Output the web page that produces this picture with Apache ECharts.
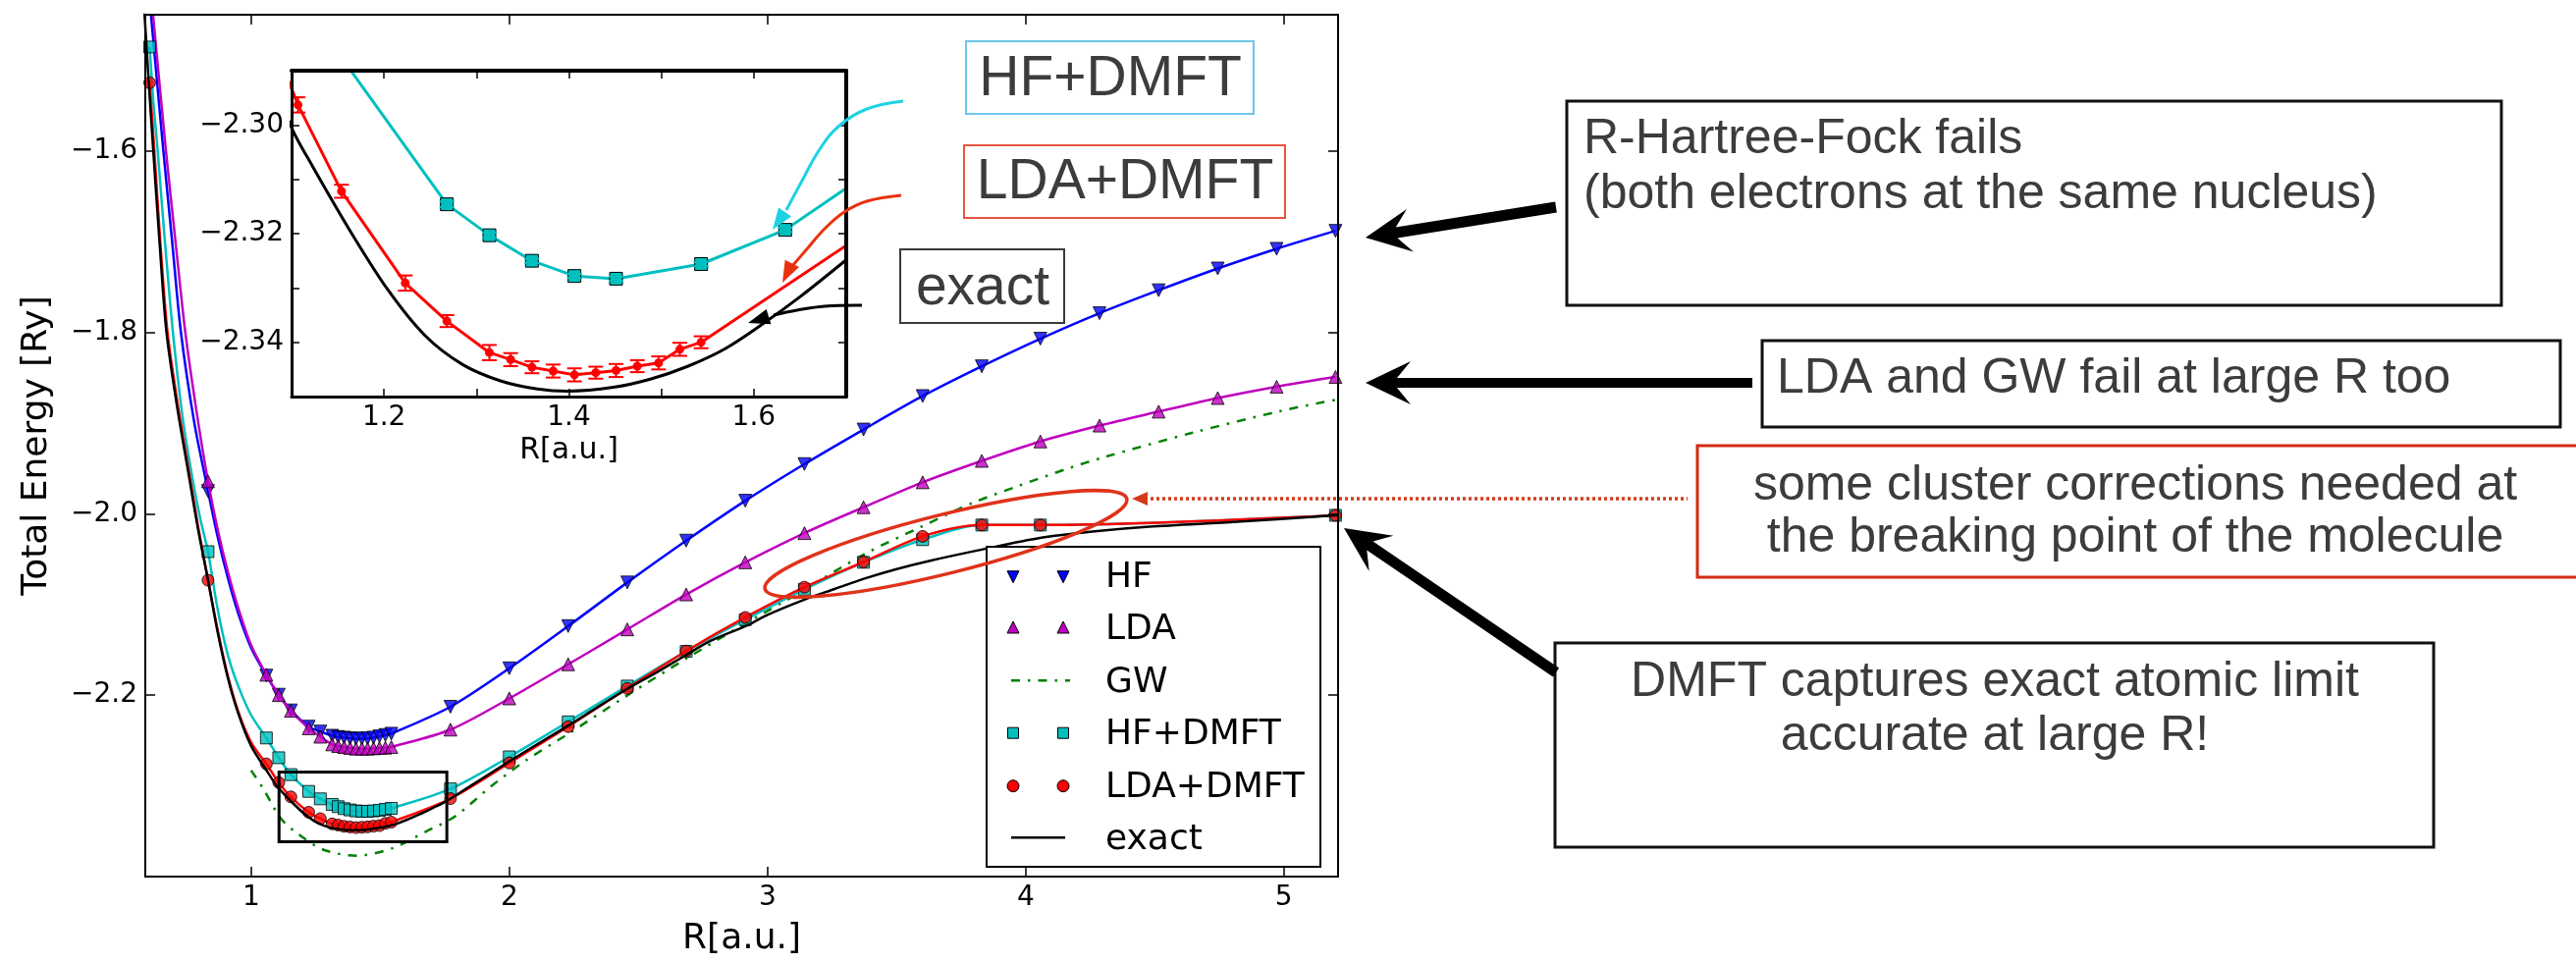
<!DOCTYPE html>
<html><head><meta charset="utf-8">
<script src="https://cdn.jsdelivr.net/npm/echarts@6/dist/echarts.min.js"></script>
<style>html,body{margin:0;padding:0;background:#fff;}#c{width:2624px;height:980px;}</style>
</head><body><div id="c"></div>
<script>
// ---------------- data (markers) ----------------
const R_HFLDA = [0.833,1.059,1.107,1.154,1.223,1.268,1.314,1.337,1.360,1.383,1.406,1.429,1.451,1.474,1.497,1.520,1.543,1.772,2.000,2.228,2.457,2.685,2.914,3.143,3.372,3.601,3.830,4.057,4.286,4.515,4.744,4.972,5.200];
const E_HF = [-1.975,-2.1785,-2.1995,-2.2168,-2.2347,-2.2401,-2.2447,-2.2461,-2.2468,-2.2476,-2.2479,-2.2479,-2.2476,-2.2468,-2.2454,-2.2439,-2.2425,-2.2128,-2.1704,-2.1239,-2.0758,-2.0297,-1.9857,-1.9453,-1.9072,-1.8703,-1.8375,-1.8071,-1.7790,-1.7537,-1.7297,-1.7080,-1.6882];
const E_LDA = [-1.9643,-2.1775,-2.2000,-2.2173,-2.2365,-2.2458,-2.2543,-2.2561,-2.2572,-2.2583,-2.2590,-2.2590,-2.2590,-2.2586,-2.2583,-2.2579,-2.2572,-2.2380,-2.2036,-2.1660,-2.1275,-2.0890,-2.0536,-2.0214,-1.9929,-1.9654,-1.9418,-1.9204,-1.9029,-1.8875,-1.8725,-1.8600,-1.8493];
const R_DMFT = [0.607,0.833,1.059,1.107,1.154,1.223,1.268,1.314,1.337,1.360,1.383,1.406,1.429,1.451,1.474,1.497,1.520,1.543,1.772,2.000,2.228,2.457,2.685,2.914,3.143,3.372,3.601,3.830,4.057,5.200];
const E_HFDMFT = [-1.4856,-2.0418,-2.2472,-2.2690,-2.2876,-2.3061,-2.3143,-2.3205,-2.3229,-2.3251,-2.3265,-2.3276,-2.3280,-2.3280,-2.3276,-2.3269,-2.3258,-2.3248,-2.3033,-2.2680,-2.2294,-2.1900,-2.1518,-2.1168,-2.0833,-2.0536,-2.0286,-2.0125,-2.0125,-2.0018];
const E_LDADMFT = [-1.5250,-2.0733,-2.2758,-2.2963,-2.3122,-2.3291,-2.3361,-2.3419,-2.3432,-2.3446,-2.3453,-2.3460,-2.3456,-2.3452,-2.3444,-2.3438,-2.3413,-2.3400,-2.3140,-2.2747,-2.2347,-2.1925,-2.1514,-2.1143,-2.0810,-2.0532,-2.0250,-2.0125,-2.0125,-2.0018];
const ERR_LDADMFT = [0,0,0,0.0014,0.0012,0.0014,0.0011,0.0014,0.0012,0.0011,0.0012,0.0012,0.0011,0.0012,0.0011,0.0012,0.0012,0.0011,0,0,0,0,0,0,0,0,0,0,0,0];
const R_HFDMFT_INSET = [1.154,1.268,1.314,1.360,1.406,1.451,1.543,1.634,1.772];
const E_HFDMFT_INSET = [-2.2876,-2.3146,-2.3203,-2.3250,-2.3278,-2.3283,-2.3256,-2.3193,-2.3033];
const ERR_HFDMFT_INSET = [0,0.0005,0.0005,0.0004,0.0004,0.0004,0.0004,0.0004,0];

// ---------------- extra points (steep branch) ----------------
const R_HF_CURVE = [0.612,0.660,0.694,0.728,0.780,0.870,0.909,0.950,1.000];
const E_HF_CURVE = [-1.45,-1.60,-1.70,-1.80,-1.90,-2.025,-2.070,-2.110,-2.148];
const R_LDA_CURVE = [0.620,0.670,0.707,0.745,0.790,0.870,0.909,0.950,1.000];
const E_LDA_CURVE = [-1.45,-1.60,-1.70,-1.80,-1.89,-2.017,-2.063,-2.104,-2.145];
const R_HFDMFT_CURVE = [0.621,0.638,0.666,0.697,0.735,0.775,0.805,0.870,0.909,0.950,1.000];
const E_HFDMFT_CURVE = [-1.545,-1.60,-1.70,-1.80,-1.895,-1.965,-2.008,-2.105,-2.155,-2.190,-2.222];
const R_LDADMFT_CURVE = [0.625,0.648,0.676,0.716,0.760,0.797,0.870,0.909,0.950,1.000];
const E_LDADMFT_CURVE = [-1.60,-1.70,-1.80,-1.88,-1.955,-2.018,-2.128,-2.178,-2.218,-2.252];

const R_GW = [1.000,1.046,1.115,1.180,1.281,1.408,1.547,1.674,1.788,1.928,2.063,2.233,2.454,2.685,2.900,3.121,3.375,3.596,3.800,3.970,4.166,4.306,4.647,4.987,5.156,5.200];
const E_GW = [-2.2830,-2.3026,-2.3360,-2.3526,-2.3705,-2.3769,-2.3687,-2.3508,-2.3340,-2.3008,-2.2722,-2.2418,-2.2008,-2.1597,-2.1235,-2.0875,-2.0447,-2.0143,-1.9875,-1.9696,-1.9500,-1.9375,-1.9107,-1.8868,-1.8768,-1.8745];
const R_EXACT = [0.585,0.604,0.621,0.645,0.672,0.712,0.757,0.795,0.833,0.870,0.909,0.950,1.000,1.062,1.100,1.122,1.163,1.204,1.244,1.285,1.326,1.366,1.399,1.448,1.488,1.529,1.570,1.610,1.651,1.698,1.757,1.850,2.004,2.120,2.232,2.340,2.454,2.570,2.683,2.781,2.914,3.000,3.143,3.260,3.376,3.500,3.630,3.834,4.055,4.258,4.479,4.818,5.210];
const E_EXACT = [-1.440,-1.527,-1.600,-1.700,-1.800,-1.880,-1.955,-2.018,-2.073,-2.130,-2.180,-2.220,-2.256,-2.284,-2.3005,-2.3074,-2.3194,-2.3303,-2.3387,-2.3441,-2.3471,-2.3486,-2.3490,-2.3483,-2.3468,-2.3444,-2.3411,-2.3366,-2.3315,-2.3251,-2.3168,-2.3000,-2.2722,-2.2520,-2.2329,-2.2135,-2.1936,-2.1750,-2.1560,-2.1400,-2.1240,-2.1115,-2.0947,-2.0830,-2.0715,-2.0610,-2.0518,-2.0393,-2.0268,-2.0197,-2.0143,-2.0089,-2.0015];

const X_TICKS = [1,2,3,4,5];
const Y_TICKS = [-2.2,-2.0,-1.8,-1.6];
const INSET_X_TICKS = [1.2,1.3,1.4,1.5,1.6];
const INSET_X_LABELS = [1.2,1.4,1.6];
const INSET_Y_TICKS = [-2.34,-2.33,-2.32,-2.31,-2.30];
const INSET_Y_LABELS = [-2.34,-2.32,-2.30];
const LEGEND_NAMES = ['HF','LDA','GW','HF+DMFT','LDA+DMFT','exact'];
const ZOOM_BOX = {x0:1.108, x1:1.758, y0:-2.2847, y1:-2.3615};

// ---------------- chart ----------------
const FONT = 'DejaVu Sans';
const AFONT = '"Liberation Sans", Arial, sans-serif';
const TXT = '#3c3c3c';
const zip = (xs, ys) => xs.map((x, i) => [x, ys[i]]);
const curve = (rl, el, r, e) => zip(rl, el).concat(zip(r, e)).sort((a, b) => a[0] - b[0]);
const umin = s => s.replace('-', '\u2212');
const chart = echarts.init(document.getElementById('c'), null, {renderer: 'canvas', width: 2624, height: 980});

function axis(grid, pos, min, max, ticks, labels, fmt, lw, tickLen, z, extra) {
  return Object.assign({
    gridIndex: grid, type: 'value', position: pos, min: min, max: max, z: z,
    axisLine: {show: true, onZero: false, lineStyle: {color: '#000', width: lw}},
    axisTick: {show: true, inside: true, length: tickLen, customValues: ticks, lineStyle: {color: '#000', width: 1.5}},
    axisLabel: labels ? {show: true, customValues: labels, formatter: fmt, fontSize: 28, fontFamily: FONT, color: '#000', margin: 8} : {show: false},
    splitLine: {show: false}
  }, extra || {});
}
const mk = (color) => ({color: color, borderColor: '#000', borderWidth: 1});
function lineS(data, color, z, extra) {
  return Object.assign({type: 'line', xAxisIndex: 0, yAxisIndex: 0, data: data, smooth: 0.3, clip: true,
    symbol: 'none', lineStyle: {color: color, width: 2.5}, z: z}, extra || {});
}
function dots(data, symbol, color, size, z, rot) {
  return {type: 'scatter', xAxisIndex: 0, yAxisIndex: 0, data: data, clip: true, symbol: symbol, symbolRotate: rot || 0,
    symbolSize: size, itemStyle: mk(color), z: z};
}
function errSeries(xs, ys, es, color, cap) {
  const data = xs.map((x, i) => [x, ys[i], es[i]]).filter(d => d[2] > 0);
  return {
    type: 'custom', xAxisIndex: 2, yAxisIndex: 2, clip: true, z: 13, data: data,
    renderItem: function (params, api) {
      const x = api.value(0), y = api.value(1), e = api.value(2);
      const t = api.coord([x, y + e]), b = api.coord([x, y - e]);
      const st = {stroke: color, lineWidth: 2};
      return {type: 'group', children: [
        {type: 'line', shape: {x1: t[0], y1: t[1], x2: b[0], y2: b[1]}, style: st},
        {type: 'line', shape: {x1: t[0] - cap, y1: t[1], x2: t[0] + cap, y2: t[1]}, style: st},
        {type: 'line', shape: {x1: b[0] - cap, y1: b[1], x2: b[0] + cap, y2: b[1]}, style: st}
      ]};
    }
  };
}

const option = {
  animation: false,
  backgroundColor: '#fff',
  grid: [
    {left: 148, top: 15, width: 1215, height: 887},
    {left: 297, top: 72, width: 565, height: 332, z: 9}
  ],
  xAxis: [
    axis(0, 'bottom', 0.59, 5.21, X_TICKS, X_TICKS, v => String(v), 2, 10, 4,
      {name: 'R[a.u.]', nameLocation: 'middle', nameGap: 46, nameTextStyle: {fontSize: 36, fontFamily: FONT, color: '#000'}}),
    axis(0, 'top', 0.59, 5.21, X_TICKS, null, null, 2, 10, 4),
    axis(1, 'bottom', 1.1, 1.7, INSET_X_TICKS, INSET_X_LABELS, v => v.toFixed(1), 3, 8, 14,
      {name: 'R[a.u.]', nameLocation: 'middle', nameGap: 40, nameTextStyle: {fontSize: 30, fontFamily: FONT, color: '#000'}}),
    axis(1, 'top', 1.1, 1.7, INSET_X_TICKS, null, null, 4, 8, 14)
  ],
  yAxis: [
    axis(0, 'left', -2.4, -1.45, Y_TICKS, Y_TICKS, v => umin(v.toFixed(1)), 2, 10, 4,
      {name: 'Total Energy [Ry]', nameLocation: 'middle', nameGap: 92, nameTextStyle: {fontSize: 36, fontFamily: FONT, color: '#000'}}),
    axis(0, 'right', -2.4, -1.45, Y_TICKS, null, null, 2, 10, 4),
    axis(1, 'left', -2.35, -2.29, INSET_Y_TICKS, INSET_Y_LABELS, v => umin(v.toFixed(2)), 3, 8, 14),
    axis(1, 'right', -2.35, -2.29, INSET_Y_TICKS, null, null, 4, 8, 14)
  ],
  series: [
    lineS(curve(R_HF_CURVE, E_HF_CURVE, R_HFLDA, E_HF), '#0000ff', 2),
    dots(zip(R_HFLDA, E_HF), 'triangle', '#0000ff', 13, 2.1, 180),
    lineS(curve(R_LDA_CURVE, E_LDA_CURVE, R_HFLDA, E_LDA), '#bf00bf', 2.2),
    dots(zip(R_HFLDA, E_LDA), 'triangle', '#bf00bf', 13, 2.3),
    lineS(zip(R_GW, E_GW), '#008000', 2.4, {lineStyle: {color: '#008000', width: 2.5, type: [9, 8, 2.5, 8]}}),
    lineS(curve(R_HFDMFT_CURVE, E_HFDMFT_CURVE, R_DMFT, E_HFDMFT), '#00bfbf', 2.5),
    dots(zip(R_DMFT, E_HFDMFT), 'rect', '#00bfbf', 12, 2.6),
    lineS(curve(R_LDADMFT_CURVE, E_LDADMFT_CURVE, R_DMFT, E_LDADMFT), '#ff0000', 2.7),
    dots(zip(R_DMFT, E_LDADMFT), 'circle', '#ff0000', 12, 2.8),
    lineS(zip(R_EXACT, E_EXACT), '#000', 3),
    // inset
    {type: 'line', xAxisIndex: 2, yAxisIndex: 2, data: zip(R_EXACT, E_EXACT), smooth: 0.3, clip: true,
     symbol: 'none', lineStyle: {color: '#000', width: 3}, z: 11},
    {type: 'line', xAxisIndex: 2, yAxisIndex: 2, data: zip(R_HFDMFT_INSET, E_HFDMFT_INSET), clip: true,
     symbol: 'rect', symbolSize: 13, lineStyle: {color: '#00bfbf', width: 3}, itemStyle: mk('#00bfbf'), z: 12},
    {type: 'line', xAxisIndex: 2, yAxisIndex: 2, data: zip(R_DMFT, E_LDADMFT), clip: true,
     symbol: 'circle', symbolSize: 9, lineStyle: {color: '#ff0000', width: 3}, itemStyle: {color: '#ff0000'}, z: 12},
    errSeries(R_DMFT, E_LDADMFT, ERR_LDADMFT, '#ff0000', 7.5),
    errSeries(R_HFDMFT_INSET, E_HFDMFT_INSET, ERR_HFDMFT_INSET, '#00bfbf', 7.5)
  ]
};
chart.setOption(option);

// ---------------- annotations ----------------
function arrowPoly(tail, tip, shaftW, headL, headW, notch) {
  const dx = tip[0] - tail[0], dy = tip[1] - tail[1];
  const L = Math.hypot(dx, dy), ux = dx / L, uy = dy / L, px = -uy, py = ux;
  const base = [tip[0] - ux * headL, tip[1] - uy * headL];
  const neck = [tip[0] - ux * (headL - notch), tip[1] - uy * (headL - notch)];
  const hw = shaftW / 2;
  return [tip, [base[0] + px * headW, base[1] + py * headW], [neck[0] + px * hw, neck[1] + py * hw],
    [tail[0] + px * hw, tail[1] + py * hw], [tail[0] - px * hw, tail[1] - py * hw],
    [neck[0] - px * hw, neck[1] - py * hw], [base[0] - px * headW, base[1] - py * headW]];
}
function head(from, tip, L, W) {
  const dx = tip[0] - from[0], dy = tip[1] - from[1];
  const n = Math.hypot(dx, dy), ux = dx / n, uy = dy / n, px = -uy, py = ux;
  const b = [tip[0] - ux * L, tip[1] - uy * L];
  return [tip, [b[0] + px * W, b[1] + py * W], [b[0] - px * W, b[1] - py * W]];
}
function txt(s, x, y, size, align, color, font, z) {
  return {type: 'text', x: x, y: y, z: z || 30, style: {text: s, font: size + 'px ' + (font || AFONT), fill: color || TXT,
    align: align, textAlign: align, verticalAlign: 'middle', textVerticalAlign: 'middle'}};
}
function box(x, y, w, h, stroke, lw, z) {
  return {type: 'rect', z: z || 29, shape: {x: x, y: y, width: w, height: h}, style: {fill: '#fff', stroke: stroke, lineWidth: lw}};
}

const g = [];
g.push({type: 'rect', z: 8, shape: {x: 297, y: 72, width: 565, height: 332}, style: {fill: '#fff'}});
const p0 = chart.convertToPixel({xAxisIndex: 0, yAxisIndex: 0}, [ZOOM_BOX.x0, ZOOM_BOX.y0]);
const p1 = chart.convertToPixel({xAxisIndex: 0, yAxisIndex: 0}, [ZOOM_BOX.x1, ZOOM_BOX.y1]);
g.push({type: 'rect', z: 7, shape: {x: p0[0], y: p0[1], width: p1[0] - p0[0], height: p1[1] - p0[1]}, style: {fill: 'none', stroke: '#000', lineWidth: 3}});

g.push(box(984, 42, 293, 74, '#6ec6e8', 2));
g.push(txt('HF+DMFT', 1131, 81, 57, 'center'));
g.push(box(982, 148, 327, 74, '#e8553f', 2));
g.push(txt('LDA+DMFT', 1146, 186, 57, 'center'));
g.push(box(917, 254, 167, 75, '#3a3a3a', 2));
g.push(txt('exact', 1001, 294, 57, 'center'));

const CYAN = '#1dd3e3', ORED = '#e8320f';
g.push({type: 'polyline', z: 20, shape: {points: [[920,103],[883,111],[855,128],[835,152],[816,186],[801,214]], smooth: 0.4}, style: {stroke: CYAN, lineWidth: 3, fill: 'none'}});
g.push({type: 'polygon', z: 20, shape: {points: head([801,214],[787,234],22,8)}, style: {fill: CYAN}});
g.push({type: 'polyline', z: 20, shape: {points: [[918,199],[883,205],[860,216],[840,233],[820,256],[807,271]], smooth: 0.4}, style: {stroke: ORED, lineWidth: 3, fill: 'none'}});
g.push({type: 'polygon', z: 20, shape: {points: head([807,268],[797,288],22,8)}, style: {fill: ORED}});
g.push({type: 'polyline', z: 20, shape: {points: [[878,311],[840,312],[812,316],[788,321]], smooth: 0.4}, style: {stroke: '#000', lineWidth: 3, fill: 'none'}});
g.push({type: 'polygon', z: 20, shape: {points: head([788,321],[762,329],22,8)}, style: {fill: '#000'}});

g.push({type: 'ellipse', z: 26, shape: {cx: 963.5, cy: 554, rx: 190, ry: 30}, rotation: 0.244, originX: 963.5, originY: 554,
  style: {fill: 'none', stroke: '#e0321a', lineWidth: 3.5}});
g.push({type: 'line', z: 26, shape: {x1: 1166, y1: 508, x2: 1719, y2: 508}, style: {stroke: '#d43a1a', lineWidth: 3.5, lineDash: [3, 3]}});
g.push({type: 'polygon', z: 26, shape: {points: head([1175,508],[1153,508],16,7)}, style: {fill: '#d43a1a'}});

const LX = 1005, LY = 557, LW = 340, LH = 326;
g.push(box(LX, LY, LW, LH, '#000', 2, 22));
const rowsY = [586.7, 640, 693.3, 746.7, 800.7, 853.3];
const mx = [1032, 1083];
LEGEND_NAMES.forEach((nm, i) => {
  const y = rowsY[i];
  g.push(txt(nm, 1126, y + 2, 36, 'left', '#000', FONT, 23));
  mx.forEach(x => {
    if (nm === 'HF') g.push({type: 'polygon', z: 23, shape: {points: [[x-6,y-5],[x+6,y-5],[x,y+7]]}, style: {fill: '#0000ff', stroke: '#000', lineWidth: 1}});
    if (nm === 'LDA') g.push({type: 'polygon', z: 23, shape: {points: [[x-6,y+5],[x+6,y+5],[x,y-7]]}, style: {fill: '#bf00bf', stroke: '#000', lineWidth: 1}});
    if (nm === 'HF+DMFT') g.push({type: 'rect', z: 23, shape: {x: x-5.5, y: y-5.5, width: 11, height: 11}, style: {fill: '#00bfbf', stroke: '#000', lineWidth: 1}});
    if (nm === 'LDA+DMFT') g.push({type: 'circle', z: 23, shape: {cx: x, cy: y, r: 6}, style: {fill: '#ff0000', stroke: '#000', lineWidth: 1}});
  });
  if (nm === 'GW') g.push({type: 'line', z: 23, shape: {x1: 1030, y1: y, x2: 1090, y2: y}, style: {stroke: '#008000', lineWidth: 2.5, lineDash: [9, 8, 2.5, 8]}});
  if (nm === 'exact') g.push({type: 'line', z: 23, shape: {x1: 1030, y1: y, x2: 1085, y2: y}, style: {stroke: '#000', lineWidth: 2.5}});
});

g.push(box(1596, 103, 952, 208, '#111', 3));
g.push(txt('R-Hartree-Fock fails', 1613, 142.5, 50, 'left'));
g.push(txt('(both electrons at the same nucleus)', 1613, 198.5, 50, 'left'));
g.push(box(1795, 347, 813, 88, '#111', 3));
g.push(txt('LDA and GW fail at large R too', 1810, 386.5, 50, 'left'));
g.push(box(1729, 454, 930, 134, '#d42b12', 3));
g.push(txt('some cluster corrections needed at', 2175, 495, 50, 'center'));
g.push(txt('the breaking point of the molecule', 2175, 548.5, 50, 'center'));
g.push(box(1584, 655, 895, 208, '#111', 3));
g.push(txt('DMFT captures exact atomic limit', 2032, 695, 50, 'center'));
g.push(txt('accurate at large R!', 2032, 750, 50, 'center'));

g.push({type: 'polygon', z: 30, shape: {points: arrowPoly([1585,211],[1391,242],11,46,22,14)}, style: {fill: '#000'}});
g.push({type: 'polygon', z: 30, shape: {points: arrowPoly([1785,390],[1391,390],10,46,22,14)}, style: {fill: '#000'}});
g.push({type: 'polygon', z: 30, shape: {points: arrowPoly([1585,685],[1369,538],11,46,22,14)}, style: {fill: '#000'}});

chart.setOption({graphic: {elements: g}});
</script>
</body></html>
